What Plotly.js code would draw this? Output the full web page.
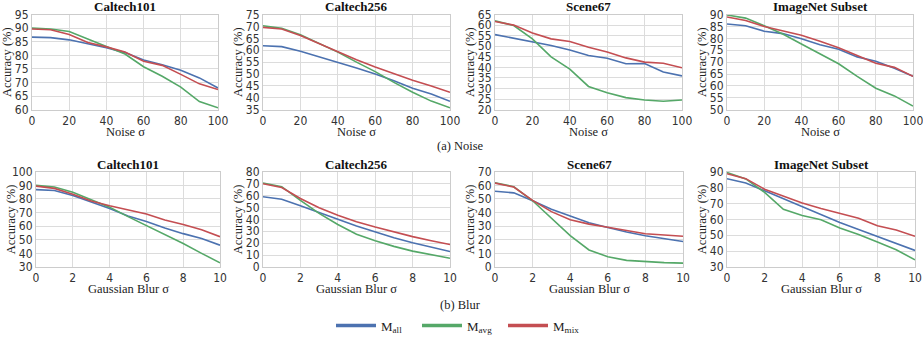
<!DOCTYPE html>
<html>
<head>
<meta charset="utf-8">
<script src="https://cdn.plot.ly/plotly-3.0.1.min.js"></script>
<style>
  html, body { margin: 0; padding: 0; background: #fff; }
  #plot { width: 923px; height: 341px; }
</style>
</head>
<body>
<div id="plot"></div>
<script>
// x values
const noiseX = [0, 10, 20, 30, 40, 50, 60, 70, 80, 90, 100];
const blurX = [0, 1, 2, 3, 4, 5, 6, 7, 8, 9, 10];

const datasets = ["Caltech101", "Caltech256", "Scene67", "ImageNet Subset"];
const seriesNames = ["M<sub>all</sub>", "M<sub>avg</sub>", "M<sub>mix</sub>"];
const seriesColors = ["#4c72b0", "#55a868", "#c44e52"];

// noise: [M_all, M_avg, M_mix] per dataset
const noiseCaltech101 = [
  [86.7, 86.5, 85.7, 84.2, 82.8, 81.0, 78.3, 76.5, 74.5, 71.7, 68.0],
  [90.0, 89.7, 88.8, 86.0, 83.5, 80.5, 75.8, 72.3, 68.3, 63.0, 60.7],
  [89.7, 89.4, 87.7, 84.7, 83.1, 81.2, 77.8, 76.3, 73.0, 69.5, 67.4]
];
const noiseCaltech256 = [
  [61.9, 61.5, 59.6, 57.3, 55.0, 52.5, 50.0, 47.2, 44.0, 41.6, 38.5],
  [70.3, 69.2, 66.5, 63.0, 59.2, 55.0, 51.0, 46.5, 42.3, 38.6, 35.8],
  [69.6, 68.9, 66.2, 62.8, 59.5, 56.0, 53.0, 50.2, 47.4, 45.0, 42.3]
];
const noiseScene67 = [
  [55.5, 53.8, 52.0, 50.4, 48.2, 45.6, 44.3, 41.7, 41.8, 37.8, 36.0],
  [62.0, 59.8, 53.5, 45.0, 39.2, 31.0, 28.0, 25.7, 24.6, 24.0, 24.6],
  [61.7, 60.0, 56.3, 53.5, 52.3, 49.5, 47.3, 44.5, 42.5, 42.0, 39.8]
];
const noiseImageNet = [
  [86.0, 85.3, 83.0, 82.0, 79.8, 77.3, 75.4, 72.2, 70.4, 67.4, 64.0],
  [89.8, 88.5, 85.3, 81.8, 77.6, 73.5, 69.3, 64.0, 59.0, 55.8, 51.5],
  [89.0, 87.5, 85.0, 83.2, 81.3, 78.8, 76.0, 72.8, 69.5, 67.8, 64.0]
];

// blur
const blurCaltech101 = [
  [86.9, 86.3, 82.5, 78.0, 73.0, 67.5, 63.5, 58.7, 54.5, 51.0, 46.0],
  [90.0, 88.8, 85.0, 79.5, 74.0, 67.0, 60.5, 54.0, 47.3, 40.0, 33.0],
  [89.5, 87.8, 83.5, 78.5, 75.0, 72.0, 69.0, 64.5, 61.3, 57.3, 52.3]
];
const blurCaltech256 = [
  [59.0, 57.0, 51.5, 45.5, 40.0, 34.5, 29.3, 24.5, 20.3, 16.5, 13.0],
  [70.5, 67.5, 56.0, 45.0, 35.7, 27.5, 22.0, 17.3, 13.3, 10.0, 7.3],
  [70.0, 66.8, 57.5, 49.8, 43.5, 38.0, 33.5, 29.3, 25.5, 22.0, 18.8]
];
const blurScene67 = [
  [55.7, 54.5, 48.7, 42.5, 37.5, 32.5, 29.0, 25.7, 23.0, 21.0, 18.7],
  [62.0, 59.0, 48.7, 35.5, 23.0, 12.5, 7.5, 4.8, 3.8, 3.2, 2.8],
  [61.7, 58.8, 49.0, 40.7, 34.7, 31.5, 29.2, 26.7, 24.4, 23.5, 22.6]
];
const blurImageNet = [
  [85.6, 83.0, 78.0, 73.0, 68.0, 63.0, 58.0, 53.6, 49.3, 45.0, 40.4],
  [89.6, 85.5, 77.0, 66.3, 62.5, 59.8, 54.5, 50.5, 45.8, 40.8, 34.5],
  [88.8, 85.7, 79.0, 74.5, 70.3, 66.9, 63.7, 60.7, 56.0, 53.3, 49.3]
];

const noiseYRanges = [[60, 95], [35, 75], [20, 65], [50, 90]];
const blurYRanges = [[30, 100], [0, 80], [0, 70], [30, 90]];

const W = 923, H = 341;
const px = x => x / W;
const py = y => 1 - y / H;

// pixel boxes of each panel [left, right, top, bottom]
const boxes = [
  [32, 218, 15, 113], [263, 450, 15, 113], [495, 682, 15, 113], [727, 913, 15, 113],
  [36, 220, 177, 275], [263, 450, 177, 275], [495, 683, 177, 275], [727, 915, 177, 275]
];

const panels = [
  { x: noiseX, ys: noiseCaltech101, yr: noiseYRanges[0], dt: 5, xdt: 20, xt: "Noise σ" },
  { x: noiseX, ys: noiseCaltech256, yr: noiseYRanges[1], dt: 5, xdt: 20, xt: "Noise σ" },
  { x: noiseX, ys: noiseScene67, yr: noiseYRanges[2], dt: 5, xdt: 20, xt: "Noise σ" },
  { x: noiseX, ys: noiseImageNet, yr: noiseYRanges[3], dt: 5, xdt: 20, xt: "Noise σ" },
  { x: blurX, ys: blurCaltech101, yr: blurYRanges[0], dt: 10, xdt: 2, xt: "Gaussian Blur σ" },
  { x: blurX, ys: blurCaltech256, yr: blurYRanges[1], dt: 10, xdt: 2, xt: "Gaussian Blur σ" },
  { x: blurX, ys: blurScene67, yr: blurYRanges[2], dt: 10, xdt: 2, xt: "Gaussian Blur σ" },
  { x: blurX, ys: blurImageNet, yr: blurYRanges[3], dt: 10, xdt: 2, xt: "Gaussian Blur σ" }
];

const tickFont = { family: "Liberation Sans Narrow, DejaVu Sans Condensed, sans-serif", size: 12, color: "#333" };
const serif = "Liberation Serif";

const data = [];
const layout = {
  width: W, height: H,
  margin: { l: 0, r: 0, t: 0, b: 0 },
  paper_bgcolor: "#fff",
  plot_bgcolor: "#fff",
  showlegend: true,
  legend: {
    orientation: "h",
    x: px(331), xanchor: "left",
    y: py(320), yanchor: "top",
    font: { family: serif, size: 13, color: "#222" },
    entrywidth: 31,
    itemwidth: 40,
    tracegroupgap: 0
  },
  annotations: [],
  hovermode: false
};

panels.forEach((p, i) => {
  const n = i + 1;
  const b = boxes[i];
  const sfx = n === 1 ? "" : n;
  layout["xaxis" + sfx] = {
    domain: [px(b[0]), px(b[1])],
    anchor: "y" + sfx,
    range: [p.x[0], p.x[p.x.length - 1]],
    dtick: p.xdt, tick0: 0,
    showline: true, mirror: true, linecolor: "#cccccc", linewidth: 1,
    showgrid: true, gridcolor: "#dcdcdc", gridwidth: 1,
    zeroline: false, ticks: "", ticklen: 0,
    ticklabeloverflow: "allow",
    tickfont: tickFont
  };
  layout["yaxis" + sfx] = {
    domain: [py(b[3]), py(b[2])],
    anchor: "x" + sfx,
    range: p.yr,
    dtick: p.dt, tick0: 0,
    showline: true, mirror: true, linecolor: "#cccccc", linewidth: 1,
    showgrid: true, gridcolor: "#dcdcdc", gridwidth: 1,
    zeroline: false, ticks: "", ticklen: 0,
    ticklabeloverflow: "allow",
    tickfont: tickFont
  };
  p.ys.forEach((ys, s) => {
    data.push({
      type: "scatter", mode: "lines",
      x: p.x, y: ys,
      xaxis: "x" + sfx, yaxis: "y" + sfx,
      name: seriesNames[s],
      legendgroup: "s" + s,
      showlegend: false,
      line: { color: seriesColors[s], width: 1.6 }
    });
  });
  const cx = (b[0] + b[1]) / 2;
  // panel title
  layout.annotations.push({
    text: "<b>" + datasets[i % 4] + "</b>",
    xref: "paper", yref: "paper",
    x: px(cx), y: py(b[2] - 8), xanchor: "center", yanchor: "middle",
    borderpad: 0,
    showarrow: false, font: { family: serif, size: 13, color: "#111" }
  });
  // x title
  layout.annotations.push({
    text: p.xt,
    xref: "paper", yref: "paper",
    x: px(cx), y: py(b[3] + 23), xanchor: "center", yanchor: "middle",
    borderpad: 0,
    showarrow: false, font: { family: serif, size: 12.5, color: "#222" }
  });
  // y title
  layout.annotations.push({
    text: "Accuracy (%)",
    xref: "paper", yref: "paper",
    x: px(b[0] - 25), y: py((b[2] + b[3]) / 2), xanchor: "center", yanchor: "middle",
    textangle: -90, borderpad: 0,
    showarrow: false, font: { family: serif, size: 12.5, color: "#222" }
  });
});

// legend entries, drawn thicker than the lines like the original
seriesNames.forEach((name, s) => {
  data.push({
    type: "scatter", mode: "lines",
    x: [null], y: [null],
    name: name, legendgroup: "s" + s, showlegend: true,
    line: { color: seriesColors[s], width: 3.5 }
  });
});

// captions
layout.annotations.push({
  text: "(a) Noise", xref: "paper", yref: "paper",
  x: px(460), y: py(150), xanchor: "center", yanchor: "middle",
  borderpad: 0,
  showarrow: false, font: { family: serif, size: 12.5, color: "#222" }
});
layout.annotations.push({
  text: "(b) Blur", xref: "paper", yref: "paper",
  x: px(460), y: py(314), xanchor: "center", yanchor: "middle",
  borderpad: 0,
  showarrow: false, font: { family: serif, size: 12.5, color: "#222" }
});

Plotly.newPlot("plot", data, layout, { displayModeBar: false, staticPlot: true });
</script>
</body>
</html>
